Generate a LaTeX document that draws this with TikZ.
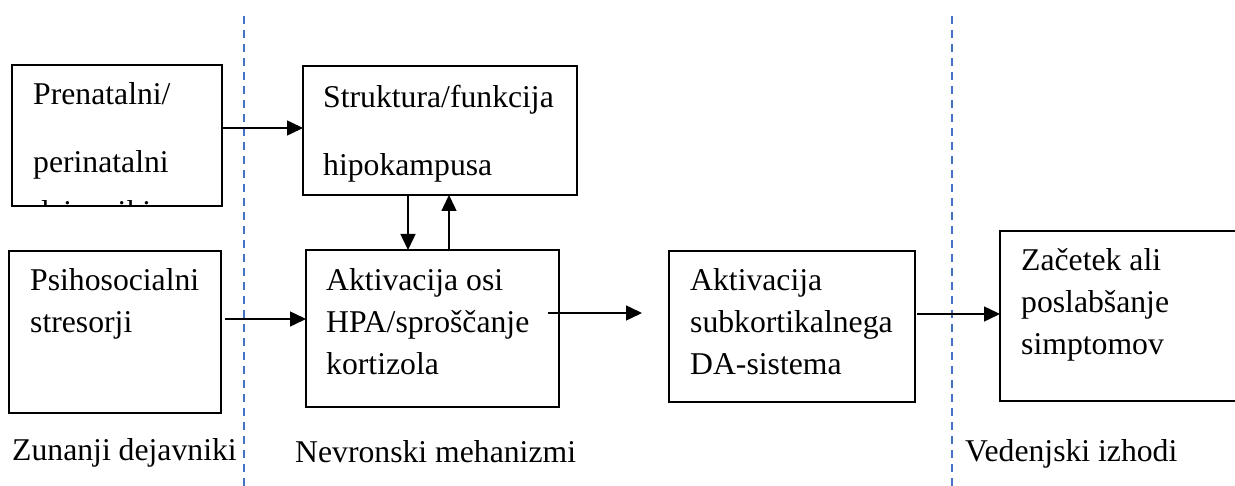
\documentclass[tikz,border=0pt]{standalone}
\usepackage{fontspec}
\setmainfont{Liberation Serif}
\usetikzlibrary{arrows.meta}
\definecolor{sepblue}{RGB}{68,114,196}
\tikzset{
  box/.style={draw, line width=1.1pt, anchor=north west, inner sep=0pt, outer sep=0pt},
  txt/.style={anchor=north west, align=left, inner sep=0pt, font=\fontsize{31.7}{42}\selectfont},
  wide/.style={font=\fontsize{31.7}{68}\selectfont},
  arr/.style={line width=1.5pt, -{Triangle[length=16pt,width=15pt]}},
  sepline/.style={sepblue, line width=1.5pt, dash pattern=on 8pt off 6pt}
}
\begin{document}
\begin{tikzpicture}[x=1pt,y=-1pt]
\useasboundingbox (0,0) rectangle (1235,486);
\begin{scope}
\clip (0,0) rectangle (1235,486);
% Dashed lines between the three columns
\draw[sepline] (244,16) -- (244,486);
\draw[sepline] (952,16) -- (952,486);
% Boxes
\node[box, minimum width=210pt, minimum height=141pt] (prenat) at (12,65) {};
\node[box, minimum width=274pt, minimum height=129pt] (hipo) at (303,66) {};
\node[box, minimum width=212pt, minimum height=162pt] (stres) at (9,251) {};
\node[box, minimum width=253pt, minimum height=157pt] (hpa) at (306,250) {};
\node[box, minimum width=246pt, minimum height=151pt] (dasys) at (669,251) {};
\node[box, minimum width=260pt, minimum height=170pt] (simpt) at (1000,231) {};
% Texts in the boxes
\node[txt, wide] (prenatT) at (33,82.5) {Prenatalni/\\perinatalni};
\node[txt, wide] (hipoT) at (323,84.5) {Struktura/funkcija\\hipokampusa};
\node[txt] (stresT) at (30,268.5) {Psihosocialni\\stresorji};
\node[txt] (hpaT) at (326,268.5) {Aktivacija osi\\HPA/sproščanje\\kortizola};
\node[txt] (dasysT) at (690,268.5) {Aktivacija\\subkortikalnega\\DA-sistema};
\node[txt] (simptT) at (1021,248.5) {Začetek ali\\poslabšanje\\simptomov};
\begin{scope}
\clip (prenat.north west) rectangle (prenat.south east);
\node[txt, anchor=base west] (prenatC) at (33,223) {dejavniki};
\end{scope}
% Arrows
\draw[arr] ([yshift=7.5pt]prenat.east) -- ([yshift=2.5pt]hipo.west);
\draw[arr] ([xshift=-32pt]hipo.south) -- ([xshift=-24.5pt]hpa.north);
\draw[arr] ([xshift=16.5pt]hpa.north) -- ([xshift=9pt]hipo.south);
\draw[arr, shorten <=4pt] ([yshift=13pt]stres.east) -- ([yshift=9.5pt]hpa.west);
\draw[arr] ([xshift=-11pt,yshift=15.5pt]hpa.east) -- ([xshift=-27pt,yshift=13.5pt]dasys.west);
\draw[arr, shorten <=2pt] ([yshift=12.5pt]dasys.east) -- ([yshift=2pt]simpt.west);
% Column titles
\node[txt, anchor=base west] (zun) at (12,460) {Zunanji dejavniki};
\node[txt, anchor=base west] (nevr) at (295,462) {Nevronski mehanizmi};
\node[txt, anchor=base west] (vedn) at (965,461) {Vedenjski izhodi};
\end{scope}
\end{tikzpicture}
\end{document}
